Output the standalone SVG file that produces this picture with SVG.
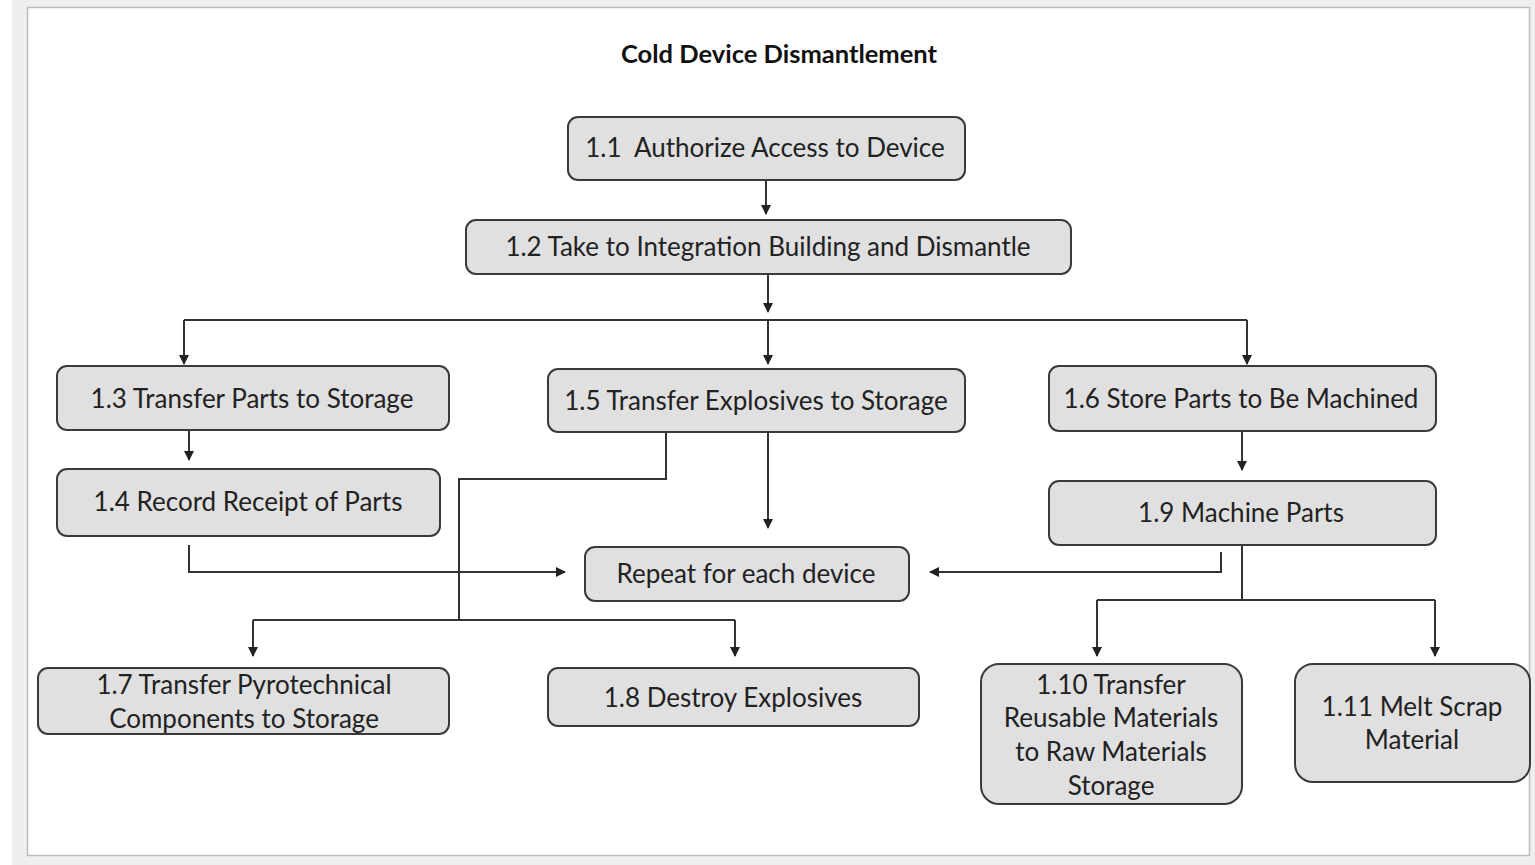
<svg xmlns="http://www.w3.org/2000/svg" width="1535" height="865" viewBox="0 0 1535 865">
  <style>
    .node rect { fill: #e0e0e0; stroke: #3a3a3a; stroke-width: 2; }
    .node text { font-family: Lato, "Open Sans", "Liberation Sans", sans-serif; font-size: 26px; fill: #222; text-anchor: middle; }
    .title { font-family: Lato, "Liberation Sans", sans-serif; font-size: 25.5px; font-weight: bold; fill: #111; text-anchor: middle; }
    #connectors path { fill: none; stroke: #333; stroke-width: 2; }
  </style>
  <defs>
    <marker id="arrow" viewBox="0 0 10 10" refX="9" refY="5" markerWidth="5" markerHeight="5" orient="auto" markerUnits="strokeWidth">
      <path d="M0,0 L10,5 L0,10 z" fill="#222"/>
    </marker>
  </defs>

  <!-- page background and frame -->
  <rect x="0" y="0" width="1535" height="865" fill="#ffffff"/>
  <rect x="12" y="0" width="1523" height="865" fill="#efefef"/>
  <rect x="27.5" y="7.5" width="1502" height="848" fill="#ffffff" stroke="#bdbdbd" stroke-width="1.5"/>

  <text class="title" x="779" y="63">Cold Device Dismantlement</text>

  <g id="connectors">
    <path d="M766,180 V214" marker-end="url(#arrow)"/>
    <path d="M768,274 V312" marker-end="url(#arrow)"/>
    <path d="M184,320 H1247"/>
    <path d="M184,320 V364" marker-end="url(#arrow)"/>
    <path d="M768,320 V364" marker-end="url(#arrow)"/>
    <path d="M1247,320 V364" marker-end="url(#arrow)"/>
    <path d="M189,430 V460" marker-end="url(#arrow)"/>
    <path d="M189,545 V572 H565" marker-end="url(#arrow)"/>
    <path d="M666,432 V479 H459 V620"/>
    <path d="M253,620 H735"/>
    <path d="M253,620 V656" marker-end="url(#arrow)"/>
    <path d="M735,620 V656" marker-end="url(#arrow)"/>
    <path d="M768,432 V528" marker-end="url(#arrow)"/>
    <path d="M1242,431 V470" marker-end="url(#arrow)"/>
    <path d="M1221,552 V572 H930" marker-end="url(#arrow)"/>
    <path d="M1242,545 V600"/>
    <path d="M1097,600 H1435"/>
    <path d="M1097,600 V656" marker-end="url(#arrow)"/>
    <path d="M1435,600 V656" marker-end="url(#arrow)"/>
  </g>

  <g id="n1_1" class="node">
    <rect x="568" y="117" width="397" height="63" rx="10"/>
    <text x="765" y="157" xml:space="preserve">1.1  Authorize Access to Device</text>
  </g>
  <g id="n1_2" class="node">
    <rect x="466" y="220" width="605" height="54" rx="10"/>
    <text x="768" y="256">1.2 Take to Integration Building and Dismantle</text>
  </g>
  <g id="n1_3" class="node">
    <rect x="57" y="366" width="392" height="64" rx="10"/>
    <text x="252" y="408">1.3 Transfer Parts to Storage</text>
  </g>
  <g id="n1_5" class="node">
    <rect x="548" y="369" width="417" height="63" rx="10"/>
    <text x="756" y="410">1.5 Transfer Explosives to Storage</text>
  </g>
  <g id="n1_6" class="node">
    <rect x="1049" y="366" width="387" height="65" rx="10"/>
    <text x="1241" y="408">1.6 Store Parts to Be Machined</text>
  </g>
  <g id="n1_4" class="node">
    <rect x="57" y="469" width="383" height="67" rx="10"/>
    <text x="248" y="511">1.4 Record Receipt of Parts</text>
  </g>
  <g id="n1_9" class="node">
    <rect x="1049" y="481" width="387" height="64" rx="10"/>
    <text x="1241" y="522">1.9 Machine Parts</text>
  </g>
  <g id="n_repeat" class="node">
    <rect x="585" y="547" width="324" height="54" rx="10"/>
    <text x="746" y="583">Repeat for each device</text>
  </g>
  <g id="n1_7" class="node">
    <rect x="38" y="668" width="411" height="66" rx="10"/>
    <text x="244" y="694">1.7 Transfer Pyrotechnical</text>
    <text x="244" y="728">Components to Storage</text>
  </g>
  <g id="n1_8" class="node">
    <rect x="548" y="668" width="371" height="58" rx="10"/>
    <text x="733" y="707">1.8 Destroy Explosives</text>
  </g>
  <g id="n1_10" class="node">
    <rect x="981" y="664" width="261" height="140" rx="18"/>
    <text x="1111" y="694">1.10 Transfer</text>
    <text x="1111" y="727">Reusable Materials</text>
    <text x="1111" y="761">to Raw Materials</text>
    <text x="1111" y="795">Storage</text>
  </g>
  <g id="n1_11" class="node">
    <rect x="1295" y="664" width="235" height="118" rx="18"/>
    <text x="1412" y="716">1.11 Melt Scrap</text>
    <text x="1412" y="749">Material</text>
  </g>
</svg>
